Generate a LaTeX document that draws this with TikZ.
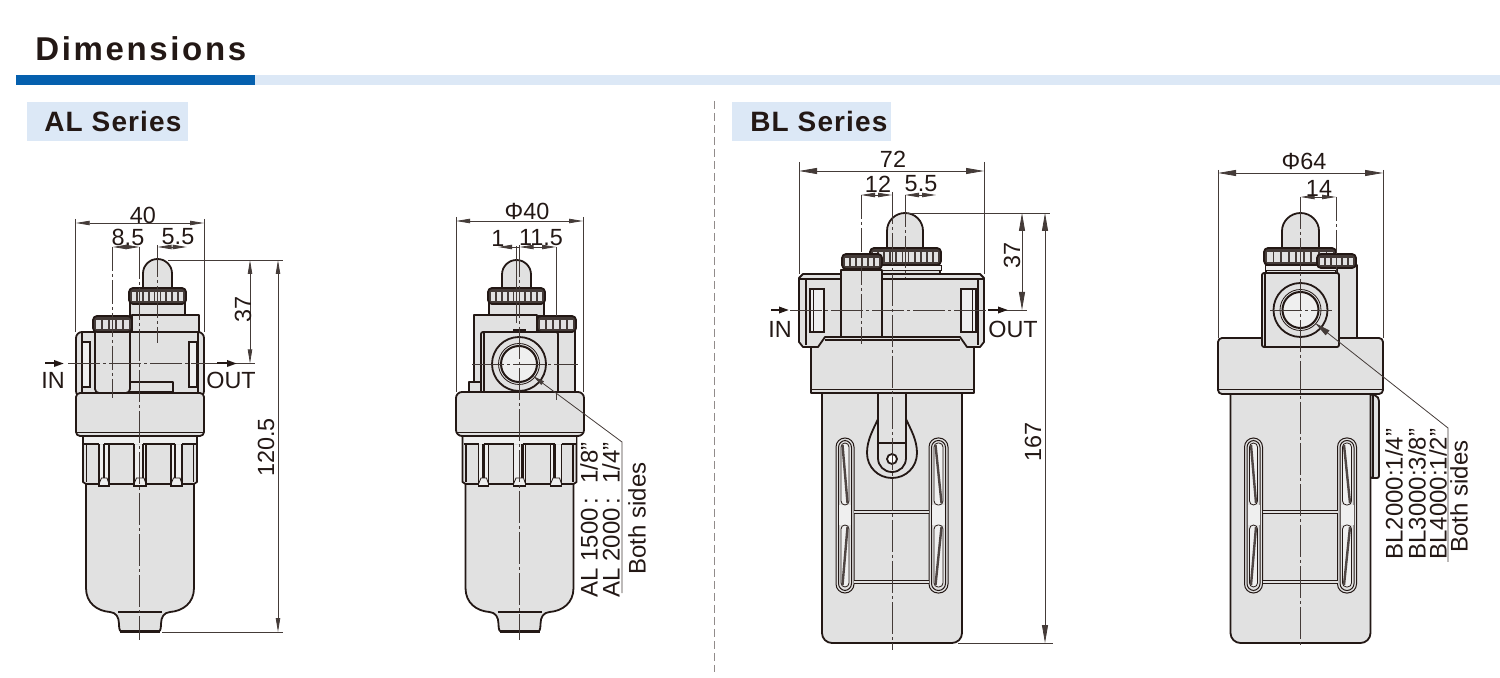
\documentclass[tikz,border=0pt]{standalone}
\usepackage{fontspec}
\setmainfont{Liberation Sans}
\newfontfamily\hdfont[LetterSpace=8]{Liberation Sans Bold}
\newfontfamily\serfont[LetterSpace=4]{Liberation Sans Bold}
\usetikzlibrary{arrows.meta}
\definecolor{ink}{HTML}{231815}
\definecolor{bodygrey}{HTML}{E1E1E1}
\definecolor{palegrey}{HTML}{EFEFEF}
\definecolor{barblue}{HTML}{0560AE}
\definecolor{paleblue}{HTML}{DCE8F6}
\tikzset{
  body/.style={draw=ink,fill=bodygrey,line width=0.9pt,line join=round},
  inner/.style={draw=ink,line width=0.9pt},
  fine/.style={draw=ink,line width=0.4pt},
  axis/.style={draw=ink!85,line width=0.4pt,dash pattern=on 16pt off 1.5pt on 1.5pt off 1.5pt},
  hid/.style={draw=ink!85,line width=0.4pt,dash pattern=on 12pt off 1.5pt on 1.5pt off 1.5pt},
  ext/.style={draw=ink!85,line width=0.4pt},
  dimline/.style={draw=ink!85,line width=0.4pt,{Triangle[length=7pt,width=2.2pt]}-{Triangle[length=7pt,width=2.2pt]}},
  dimlinebig/.style={draw=ink!85,line width=0.4pt,{Triangle[length=9pt,width=3pt]}-{Triangle[length=9pt,width=3pt]}},
  flow/.style={draw=ink,line width=1pt,-{Triangle[length=5pt,width=3.2pt]}},
  lab/.style={font=\fontsize{11.7}{12}\selectfont,text=ink,inner sep=0pt},
  note/.style={font=\fontsize{12}{13}\selectfont,text=ink,inner sep=0pt,rotate=90},
}
\newcommand{\knurl}[5]{%
  \draw[body,fill=ink!85,rounded corners=2pt] (#1,#2) rectangle (#3,#4);
  \pgfmathsetmacro{\kdx}{(#3-#1-4)/#5}
  \foreach \i in {1,...,#5}{
    \fill[bodygrey] ({#1+2.9+(\i-1)*\kdx},{#2+4}) rectangle ({#1+1.1+\i*\kdx},{#4-3});
  }
}
\newcommand{\alglass}[1]{%
  \draw[body] ({#1-54},484) -- ({#1-54},588)
    .. controls ({#1-54},603) and ({#1-43},611) .. ({#1-30},612)
    .. controls ({#1-24},612.5) and ({#1-21},617) .. ({#1-21},624)
    .. controls ({#1-21},630) and ({#1-20},632) .. ({#1-17},632)
    -- ({#1+17},632)
    .. controls ({#1+20},632) and ({#1+21},630) .. ({#1+21},624)
    .. controls ({#1+21},617) and ({#1+24},612.5) .. ({#1+30},612)
    .. controls ({#1+43},611) and ({#1+54},603) .. ({#1+54},588)
    -- ({#1+54},484) -- cycle;
  \draw[inner] ({#1-22},612) -- ({#1+22},612);
  \draw[draw=ink,line width=1.4pt] ({#1-20},631.5) -- ({#1+20},631.5);
  \draw[body] ({#1-57},436) -- ({#1-57},482) -- ({#1-54},484) -- ({#1+54},484) -- ({#1+57},482) -- ({#1+57},436) -- cycle;
  \fill[palegrey] ({#1-56},437) rectangle ({#1+56},444);
  \draw[inner] ({#1-53.5},482) -- ({#1-53.5},444);
  \draw[inner] ({#1+53.5},482) -- ({#1+53.5},444);
  \draw[inner] ({#1-56},444) -- ({#1-41},444);
  \draw[inner] ({#1-36},444) -- ({#1-6},444);
  \draw[inner] ({#1+3},444) -- ({#1+35},444);
  \draw[inner] ({#1+42},444) -- ({#1+56},444);
  \foreach \a/\t/\b in {-41/-36/-31,-6/3/6,31/35/42}{
    \fill[palegrey] ({#1+\a},445) rectangle ({#1+\b},486);
    \draw[inner] ({#1+\a},444) -- ({#1+\a},486) -- ({#1+\b},486) -- ({#1+\b},444);
    \draw[draw=ink,line width=1.2pt] ({#1+\t},444) -- ({#1+\t},478);
    \draw[fine] ({#1+\a},484) -- ({#1+\a+2.5},478) -- ({#1+\b-2},478) -- ({#1+\b},484);
  }
}
\newcommand{\blslot}[2]{%
  \draw[draw=ink,line width=0.5pt,fill=bodygrey,rounded corners=4.5pt] ({#1},438) rectangle ({#2},593);
  \draw[draw=ink,line width=0.5pt,rounded corners=3.5pt] ({#1+2.5},440.5) rectangle ({#2-2.5},590.5);
  \fill[palegrey] ({#1+3},505) rectangle ({#2-3},525);
  \draw[fine,fill=palegrey,rounded corners=2pt] ({#1+5},443) rectangle ({#2-5},505);
  \draw[fine,fill=palegrey,rounded corners=2pt] ({#1+5},525) rectangle ({#2-5},587);
  \draw[draw=ink!80,line width=1.2pt] ({#1+6.5},445) -- ({#2-6.5},503);
  \draw[draw=ink!80,line width=1.2pt] ({#2-6.5},527) -- ({#1+6.5},585);
}
\newcommand{\blglass}[1]{%
  \draw[body,rounded corners=5pt] ({#1-70},390) -- ({#1-70},643) -- ({#1+70},643) -- ({#1+70},390);
  \blslot{#1-56}{#1-38}
  \blslot{#1+37}{#1+56}
  \draw[fine,double=bodygrey,double distance=1.3pt] ({#1-38},512) -- ({#1+37},512);
  \draw[fine,double=bodygrey,double distance=1.3pt] ({#1-38},582) -- ({#1+37},582);
}
\newcommand{\portring}[2]{%
  \draw[inner] (#1,#2) circle[radius=27];
  \draw[fine] (#1,#2) circle[radius=20.5];
  \draw[draw=ink,line width=1pt,fill=palegrey] (#1,#2) circle[radius=18];
}
\begin{document}
\begin{tikzpicture}[x=0.5pt,y=-0.5pt]
\useasboundingbox (0,0) rectangle (1500,678);
% header
\node[font=\hdfont\fontsize{16.5}{18}\selectfont,text=ink,inner sep=0pt,anchor=west] (title) at (35,49) {Dimensions};
\fill[paleblue] (255,75) rectangle (1500,85);
\fill[barblue] (16,75) rectangle (255,85);
\fill[paleblue] (27,102) rectangle (188,141);
\node[font=\serfont\fontsize{14}{15}\selectfont,text=ink,inner sep=0pt,anchor=west] (alhead) at (44,121) {AL Series};
\fill[paleblue] (732,102) rectangle (891,141);
\node[font=\serfont\fontsize{14}{15}\selectfont,text=ink,inner sep=0pt,anchor=west] (blhead) at (750,121) {BL Series};
\draw[draw=ink!50,line width=0.5pt,dash pattern=on 4pt off 2pt] (714,101) -- (714,672);

% ===== AL front =====
\alglass{140}
\draw[body] (143,290) -- (143,273.5) .. controls (143,265.5) and (149.5,259) .. (157.5,259) .. controls (165.5,259) and (172,265.5) .. (172,273.5) -- (172,290) -- cycle;
\draw[body] (130,303) rectangle (185,316);
\knurl{129}{288}{186}{304}{9}
\draw[body] (132,315) rectangle (199,334);
\draw[body,rounded corners=3pt] (76,397) -- (76,332) -- (204,332) -- (204,397) -- cycle;
\draw[inner] (82,333) -- (82,393);
\draw[inner] (198,333) -- (198,393);
\draw[inner,fill=palegrey] (82.5,342) rectangle (90,387);
\draw[inner,fill=palegrey] (189,342) rectangle (197,387);
\draw[body] (120,382) rectangle (173,392);
\draw[body,rounded corners=2pt] (95,331) -- (95,393) -- (130,393) -- (130,331);
\knurl{93}{316}{132}{332}{5}
\draw[inner] (84,393) -- (196,393);
\draw[body,rounded corners=2pt] (76,393) rectangle (204,436);
\draw[inner] (77,432.5) -- (203,432.5);
\draw[hid] (112.7,247) -- (112.7,398);
\draw[axis] (157.5,245) -- (157.5,343);
\draw[axis] (139.5,247) -- (139.5,640);
\draw[axis] (68,363.5) -- (255,363.5);
\draw[ext] (75.7,219) -- (75.7,332);
\draw[ext] (204,219) -- (204,332);
\draw[ext] (168,260) -- (283,260);
\draw[ext] (162,632) -- (283,632);
\draw[dimline] (75.7,223) -- (204,223);
\draw[dimline] (112.7,247) -- (139.5,247);
\draw[dimline] (157.5,247) -- (186.7,247);
\draw[dimline] (250,260) -- (250,363.5);
\draw[dimline] (278,260) -- (278,632);
\draw[flow] (45,363.5) -- (64,363.5);
\draw[flow] (217,363.5) -- (237,363.5);
\node[lab] (a40) at (143,215) {40};
\node[lab] (a85) at (128,237) {8.5};
\node[lab] (a55) at (178,237) {5.5};
\node[lab,rotate=90] (a37) at (243,309) {37};
\node[lab,rotate=90] (a120) at (266,447.5) {120.5};
\node[lab] (ain) at (53,380) {IN};
\node[lab] (aout) at (231,380) {OUT};

% ===== AL side =====
\alglass{519.5}
\draw[body] (502,290) -- (502,274.5) .. controls (502,266.5) and (508.5,260) .. (516.5,260) .. controls (524.5,260) and (531,266.5) .. (531,274.5) -- (531,290) -- cycle;
\draw[body] (489,303) rectangle (544,316);
\knurl{488}{288}{545}{304}{9}
\draw[body] (474,315) rectangle (537,392);
\draw[body] (469,382) rectangle (481,392);
\draw[body] (558,382) rectangle (570,392);
\draw[body] (556,331) rectangle (575,392);
\knurl{537}{316}{576}{332}{5}
\draw[body,rounded corners=1pt] (481,332) rectangle (558,394);
\draw[inner] (484,333) -- (484,393);
\portring{519}{364}
\draw[body,rounded corners=3pt] (456,392) rectangle (584,436);
\draw[inner] (457,432.5) -- (583,432.5);
\draw[draw=ink,line width=1.2pt] (513,330.5) -- (526,330.5);
\draw[ext] (516,246) -- (516,323);
\draw[axis] (519.5,245) -- (519.5,640);
\draw[ext] (556,247) -- (556,316);
\draw[hid] (556,394) -- (556,400);
\draw[axis] (472,364) -- (578,364);
\draw[ext] (456,217) -- (456,392);
\draw[ext] (583,217) -- (583,392);
\draw[dimline] (456,221) -- (583,221);
\draw[ext,{Triangle[length=7pt,width=2.2pt]}-] (498,247) -- (516,247);
\draw[ext] (516,247) -- (519.5,247);
\draw[dimline] (519.5,247) -- (556,247);
\draw[ext,{Triangle[length=6pt,width=2.2pt]}-] (533,376) -- (622,442) -- (622,593);
\node[lab] (b40) at (527,211) {Φ40};
\node[lab] (b1) at (498,238) {1};
\node[lab] (b115) at (541,238) {11.5};
\node[note,anchor=west] (b15) at (589,598) {AL 1500\hspace{2pt}:\hspace{7pt}1/8"};
\node[note,anchor=west] (b20) at (611,598) {AL 2000\hspace{2pt}:\hspace{7pt}1/4"};
\node[note,anchor=west] (bboth) at (637,575) {Both sides};

% ===== BL front =====
\blglass{892}
\draw[body] (887,250) -- (887,231) .. controls (887,221) and (895,213) .. (905,213) .. controls (915,213) and (923,221) .. (923,231) -- (923,250) -- cycle;
\draw[body] (871,269) rectangle (940,274);
\knurl{870}{248}{941}{265}{11}
\draw[fine,fill=palegrey] (871,265) rectangle (941,270);
\draw[body] (811,337) rectangle (974,393);
\draw[inner] (812,389.5) -- (973,389.5);
\draw[body,line join=round] (803,274) -- (980,274) -- (984,278) -- (984,342) -- (980,347) -- (967,347) -- (960,337) -- (825,337) -- (818,347) -- (803,347) -- (799,342) -- (799,278) -- cycle;
\draw[inner] (800,279) -- (983,279);
\draw[inner] (806,279) -- (806,345);
\draw[inner] (978,279) -- (978,345);
\draw[inner,fill=palegrey] (810,289) rectangle (824,332);
\draw[fine] (813,290) -- (813,331);
\draw[inner,fill=palegrey] (961,289) rectangle (976,332);
\draw[fine] (972,290) -- (972,331);
\draw[inner] (825,340) -- (960,340);
\draw[body] (841,270) rectangle (882,337);
\knurl{842}{254}{882}{269}{6}
\draw[body] (878,393) -- (878,419) .. controls (873,430) and (867,440) .. (867,453) .. controls (867,467) and (878,478) .. (892,478) .. controls (906,478) and (917,467) .. (917,453) .. controls (917,440) and (911,430) .. (906,419) -- (906,393) -- cycle;
\draw[inner] (878,419) -- (878,458) .. controls (878,466) and (884,472) .. (892,472) .. controls (900,472) and (906,466) .. (906,458) -- (906,419);
\draw[inner] (878,443) -- (906,443);
\draw[inner,fill=white] (892,459) circle[radius=5];
\draw[hid] (861,195) -- (861,344);
\draw[axis] (905,195) -- (905,278);
\draw[axis] (892,192) -- (892,650);
\draw[axis] (790,310) -- (1027,310);
\draw[ext] (799,162) -- (799,274);
\draw[ext] (984,162) -- (984,274);
\draw[ext] (907,213) -- (1050,213);
\draw[ext] (958,643) -- (1053,643);
\draw[dimlinebig] (799,171) -- (984,171);
\draw[dimline] (861,195) -- (892,195);
\draw[dimline] (905,195) -- (936,195);
\draw[dimlinebig] (1022,213) -- (1022,310);
\draw[dimlinebig] (1045,213) -- (1045,643);
\draw[flow] (771,310) -- (789,310);
\draw[flow] (988,310) -- (1008,310);
\node[lab] (c72) at (893,159) {72};
\node[lab] (c12) at (878,184) {12};
\node[lab] (c55) at (921,184) {5.5};
\node[lab,rotate=90] (c37) at (1012,255) {37};
\node[lab,rotate=90] (c167) at (1033,442) {167};
\node[lab] (cin) at (780,329) {IN};
\node[lab] (cout) at (1013,329) {OUT};

% ===== BL side =====
\draw[body,rounded corners=1pt] (1370,394) -- (1377,396) -- (1379,399) -- (1379,478) -- (1370,478) -- cycle;
\draw[inner] (1373,394) -- (1373,478);
\blglass{1300.5}
\draw[body] (1282,250) -- (1282,231) .. controls (1282,221) and (1290.5,213) .. (1300.5,213) .. controls (1310.5,213) and (1319,221) .. (1319,231) -- (1319,250) -- cycle;
\draw[body] (1337,265) rectangle (1357,338);
\draw[body] (1266,269) rectangle (1336,274);
\knurl{1264}{248}{1336}{265}{9}
\draw[fine,fill=palegrey] (1265,265) rectangle (1336,270);
\knurl{1317}{254}{1356}{268}{6}
\draw[body,rounded corners=2pt] (1218,338) rectangle (1383,394);
\draw[inner] (1219,389.5) -- (1382,389.5);
\draw[body,rounded corners=1pt] (1262,273) rectangle (1339,347);
\draw[inner] (1265,274) -- (1265,346);
\portring{1300.5}{310}
\draw[axis] (1300.5,197) -- (1300.5,648);
\draw[hid] (1336,197) -- (1336,272);
\draw[axis] (1270,310) -- (1332,310);
\draw[ext] (1218,170) -- (1218,338);
\draw[ext] (1383,170) -- (1383,338);
\draw[dimlinebig] (1218,173) -- (1383,173);
\draw[dimline] (1300.5,197) -- (1336,197);
\draw[ext,{Triangle[length=8pt,width=3pt]}-] (1315,323) -- (1448,428) -- (1448,562);
\node[lab] (d64) at (1304,161) {Φ64};
\node[lab] (d14) at (1319,188) {14};
\node[note,anchor=west] (d2) at (1394,560) {BL2000:1/4"};
\node[note,anchor=west] (d3) at (1417,560) {BL3000:3/8"};
\node[note,anchor=west] (d4) at (1438,560) {BL4000:1/2"};
\node[note,anchor=west] (dboth) at (1459,553) {Both sides};
\end{tikzpicture}
\end{document}
